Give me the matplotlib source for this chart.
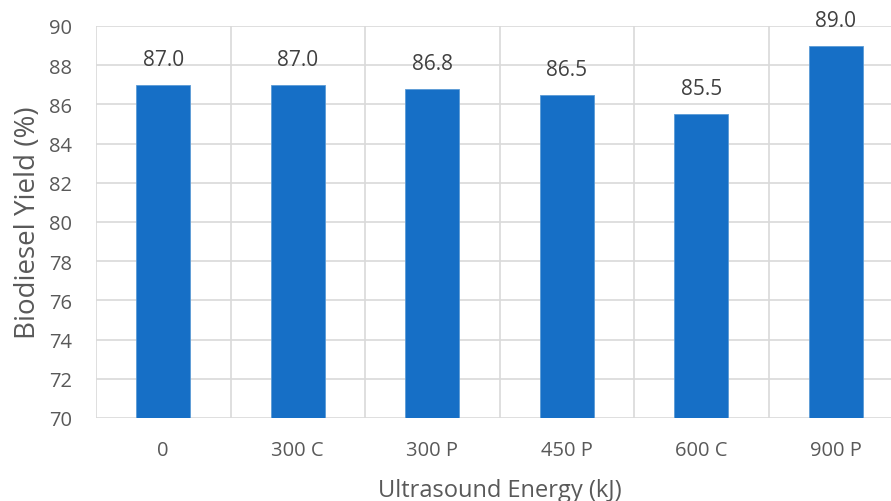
import matplotlib.pyplot as plt

energies = ["0", "300 C", "300 P", "450 P", "600 C", "900 P"]
yields = [87.0, 87.0, 86.8, 86.5, 85.5, 89.0]

BAR = "#166FC6"
GRID = "#D9D9D9"
TEXT = "#595959"

plt.rcParams["font.family"] = ["Open Sans", "DejaVu Sans"]

fig = plt.figure(figsize=(8.91, 5.02), dpi=100)
ax = fig.add_axes([96 / 891, 1 - 419 / 502, 807 / 891, 392 / 502])

xs = range(len(energies))
bars = ax.bar(xs, yields, width=0.4, color=BAR, edgecolor="#5B9BD5",
              linewidth=0.6, zorder=3)
for x, v in zip(xs, yields):
    ax.text(x, v + 0.75, f"{v:.1f}", ha="center", va="bottom",
            fontsize=15, color="#404040")

ax.set_ylim(70, 90)
ax.set_xlim(-0.5, len(energies) - 0.5)
ax.set_yticks(range(70, 91, 2))
ax.set_xticks(list(xs))
ax.set_xticklabels(energies)

# vertical lines between categories, horizontal ones at the ticks
for b in range(len(energies) + 1):
    ax.axvline(b - 0.5, color=GRID, lw=1.2, zorder=1)
ax.grid(axis="y", color=GRID, lw=1.2, zorder=1)

for s in ax.spines.values():
    s.set_visible(False)
ax.tick_params(length=0, labelsize=14.5, labelcolor=TEXT)
ax.tick_params(axis="x", pad=16)
ax.tick_params(axis="y", pad=17)

ax.set_ylabel("Biodiesel Yield (%)", fontsize=20, color=TEXT, labelpad=5)
ax.set_xlabel("Ultrasound Energy (kJ)", fontsize=17, color=TEXT, labelpad=13)

fig.savefig("out.png", dpi=100)
